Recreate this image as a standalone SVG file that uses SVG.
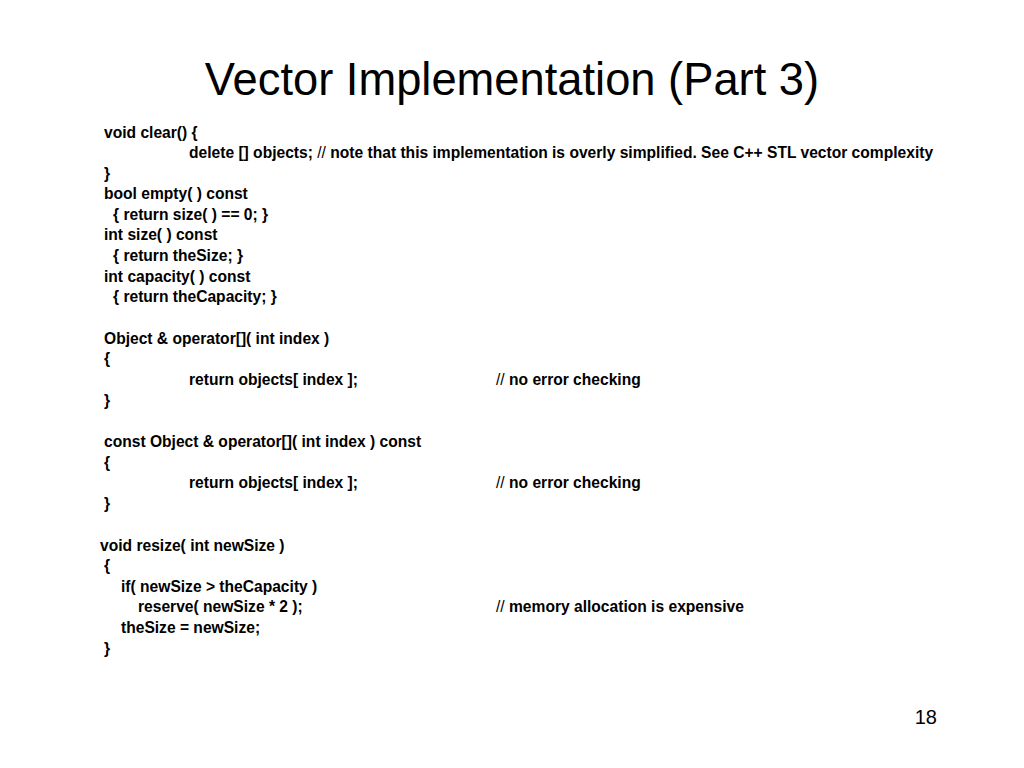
<svg xmlns="http://www.w3.org/2000/svg" width="1024" height="768" viewBox="0 0 1024 768">
<style>
.c{font-family:"Liberation Sans",Arial,sans-serif;font-size:15.6px;font-weight:bold;fill:#000}
.n{font-weight:normal}
</style>
<rect width="1024" height="768" fill="#fff"/>
<text x="512" y="95" text-anchor="middle" font-family="Liberation Sans,Arial,sans-serif" font-size="45.3" fill="#000">Vector Implementation (Part 3)</text>
<g class="c">
<text x="104" y="138">void clear() {</text>
<text x="189" y="158">delete [] objects; <tspan class="n">//</tspan> note that this implementation is overly simplified. See C++ STL vector complexity</text>
<text x="104" y="179">}</text>
<text x="104" y="199">bool empty( ) const</text>
<text x="113" y="220">{ return size( ) == 0; }</text>
<text x="104" y="240">int size( ) const</text>
<text x="113" y="261">{ return theSize; }</text>
<text x="104" y="282">int capacity( ) const</text>
<text x="113" y="302">{ return theCapacity; }</text>
<text x="104" y="344">Object &amp; operator[]( int index )</text>
<text x="104" y="364">{</text>
<text x="189" y="385">return objects[ index ];</text>
<text x="496" y="385"><tspan class="n">//</tspan> no error checking</text>
<text x="104" y="406">}</text>
<text x="104" y="447">const Object &amp; operator[]( int index ) const</text>
<text x="104" y="468">{</text>
<text x="189" y="488">return objects[ index ];</text>
<text x="496" y="488"><tspan class="n">//</tspan> no error checking</text>
<text x="104" y="509">}</text>
<text x="100" y="551">void resize( int newSize )</text>
<text x="104" y="571">{</text>
<text x="121" y="592">if( newSize &gt; theCapacity )</text>
<text x="138" y="612">reserve( newSize * 2 );</text>
<text x="496" y="612"><tspan class="n">//</tspan> memory allocation is expensive</text>
<text x="121" y="633">theSize = newSize;</text>
<text x="104" y="654">}</text>
</g>
<text x="937" y="724" text-anchor="end" font-family="Liberation Sans,Arial,sans-serif" font-size="20" fill="#000">18</text>
</svg>
